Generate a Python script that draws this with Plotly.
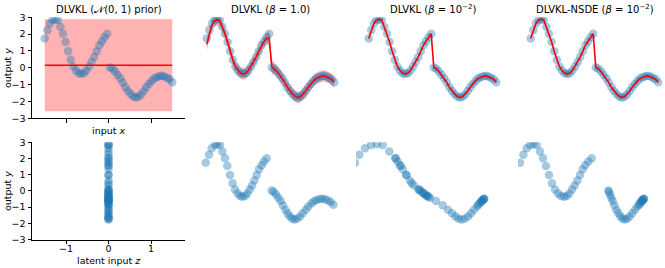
import plotly.graph_objects as go

# ---------------- data ----------------
x_train = [-1.5, -1.439, -1.378, -1.316, -1.255, -1.194, -1.133, -1.071, -1.01, -0.949,
           -0.888, -0.827, -0.765, -0.704, -0.643, -0.582, -0.52, -0.459, -0.398, -0.337,
           -0.276, -0.214, -0.153, -0.092, -0.031, 0.031, 0.092, 0.153, 0.214, 0.276,
           0.337, 0.398, 0.459, 0.52, 0.582, 0.643, 0.704, 0.765, 0.827, 0.888,
           0.949, 1.01, 1.071, 1.133, 1.194, 1.255, 1.316, 1.378, 1.439, 1.5]

y_train = [1.74, 2.24, 2.64, 2.84, 2.88, 2.84, 2.44, 2.02, 1.54, 0.98,
           0.48, 0.08, -0.16, -0.32, -0.36, -0.32, -0.16, 0.08, 0.34, 0.64,
           0.98, 1.34, 1.58, 1.82, 2.02, 0.02, -0.06, -0.22, -0.42, -0.62,
           -0.88, -1.16, -1.38, -1.56, -1.70, -1.76, -1.72, -1.58, -1.38, -1.16,
           -0.96, -0.78, -0.64, -0.56, -0.50, -0.48, -0.52, -0.60, -0.68, -0.86]

# predictive means / std per model
mean_prior = [0.15] * 50
std_prior = [1.365] * 50

mean_beta1 = [1.40, 2.05, 2.55, 2.80, 2.86, 2.80, 2.44, 2.02, 1.54, 0.98,
              0.48, 0.08, -0.16, -0.32, -0.36, -0.32, -0.16, 0.08, 0.34, 0.64,
              0.98, 1.32, 1.55, 1.75, 1.75, 0.06, -0.06, -0.22, -0.42, -0.62,
              -0.88, -1.16, -1.38, -1.56, -1.70, -1.76, -1.72, -1.58, -1.38, -1.16,
              -0.96, -0.78, -0.64, -0.56, -0.50, -0.48, -0.52, -0.60, -0.68, -0.86]
std_beta1 = [0.17] * 24 + [0.22, 0.22] + [0.17] * 24

mean_beta2 = y_train
std_beta2 = [0.04] * 50
mean_nsde = y_train
std_nsde = [0.04] * 50

# latent inputs z for each model (bottom row)
z_prior = [0.0] * 50
z_beta1 = [-1.525, -1.447, -1.384, -1.306, -1.251, -1.188, -1.133, -1.070, -1.016, -0.953,
           -0.890, -0.835, -0.772, -0.718, -0.663, -0.600, -0.545, -0.490, -0.435, -0.380,
           -0.325, -0.270, -0.208, -0.153, -0.090, 0.028, 0.075, 0.130, 0.184, 0.239,
           0.294, 0.349, 0.404, 0.451, 0.506, 0.561, 0.624, 0.694, 0.757, 0.828,
           0.890, 0.961, 1.024, 1.086, 1.157, 1.220, 1.282, 1.353, 1.416, 1.479]
z_beta2 = [-1.824, -1.722, -1.588, -1.447, -1.314, -1.173, -1.016, -0.875, -0.749, -0.608,
           -0.490, -0.333, -0.216, -0.122, -0.090, -0.137, -0.200, -0.310, -0.435, -0.529,
           -0.624, -0.702, -0.765, -0.820, -0.867, -0.294, -0.247, -0.169, -0.059, 0.082,
           0.239, 0.365, 0.459, 0.537, 0.608, 0.678, 0.757, 0.835, 0.906, 0.976,
           1.047, 1.102, 1.149, 1.180, 1.204, 1.220, 1.204, 1.173, 1.141, 1.078]
z_nsde = [-1.753, -1.674, -1.596, -1.518, -1.439, -1.361, -1.282, -1.212, -1.141, -1.071,
          -1.000, -0.929, -0.859, -0.788, -0.718, -0.655, -0.592, -0.529, -0.467, -0.404,
          -0.341, -0.278, -0.216, -0.145, -0.067, 0.325, 0.341, 0.365, 0.396, 0.427,
          0.467, 0.514, 0.561, 0.608, 0.655, 0.710, 0.765, 0.827, 0.890, 0.953,
          1.008, 1.055, 1.094, 1.125, 1.149, 1.165, 1.157, 1.133, 1.110, 1.063]

titles = ["DLVKL (𝒩(0, 1) prior)",
          "DLVKL (<i>β</i> = 1.0)",
          "DLVKL (<i>β</i> = 10<sup>−2</sup>)",
          "DLVKL-NSDE (<i>β</i> = 10<sup>−2</sup>)"]
y_ticks = [-3, -2, -1, 0, 1, 2, 3]
x_ticks = [-1, 0, 1]

means = [mean_prior, mean_beta1, mean_beta2, mean_nsde]
stds = [std_prior, std_beta1, std_beta2, std_nsde]
zs = [z_prior, z_beta1, z_beta2, z_nsde]

# ---------------- layout geometry ----------------
W, H = 665, 268
col_left = [32, 194, 356, 518]
col_w = 153
ppu = 42.5
x_lo = -1.8
top_px = (17.3, 118.3)
bot_px = (142.3, 239.5)

FONT = "DejaVu Sans"
dot_color = "rgba(31,119,180,0.4)"
band_color = "rgba(255,0,0,0.3)"

fig = go.Figure()
layout = dict(width=W, height=H, margin=dict(l=0, r=0, t=0, b=0),
              paper_bgcolor="white", plot_bgcolor="rgba(0,0,0,0)",
              showlegend=False, font=dict(family=FONT, size=9.5, color="black"),
              annotations=[])


def axis_common(visible):
    return dict(visible=visible, showgrid=False, zeroline=False, automargin=False,
                showline=visible, linecolor="black", linewidth=1,
                ticks="outside" if visible else "", ticklen=3.5, tickwidth=1,
                tickcolor="black", tickfont=dict(family=FONT, size=9.5, color="black"))


for row in range(2):
    for c in range(4):
        k = row * 4 + c + 1
        l = col_left[c]
        r = min(l + col_w, W)
        xr = [x_lo, x_lo + (r - l) / ppu]
        ypx = top_px if row == 0 else bot_px
        ydom = [1 - ypx[1] / H, 1 - ypx[0] / H]
        vis = (c == 0)
        xa = axis_common(vis)
        xa.update(domain=[l / W, r / W], range=xr, anchor=f"y{k}",
                  tickvals=x_ticks, showticklabels=(row == 1))
        if vis and row == 1:
            xa.update(ticklabelstandoff=-3)
        ya = axis_common(vis)
        ya.update(domain=ydom, range=[-3.002, 3.002], anchor=f"x{k}", tickvals=y_ticks)
        layout[f"xaxis{k}"] = xa
        layout[f"yaxis{k}"] = ya
        xs, ys = f"x{k}", f"y{k}"
        if row == 0:
            up = [m + 2 * s for m, s in zip(means[c], stds[c])]
            lo = [m - 2 * s for m, s in zip(means[c], stds[c])]
            fig.add_trace(go.Scatter(x=x_train, y=up, mode="lines", line=dict(width=0),
                                     xaxis=xs, yaxis=ys, hoverinfo="skip"))
            fig.add_trace(go.Scatter(x=x_train, y=lo, mode="lines", line=dict(width=0),
                                     fill="tonexty", fillcolor=band_color,
                                     xaxis=xs, yaxis=ys, hoverinfo="skip"))
            fig.add_trace(go.Scatter(x=x_train, y=y_train, mode="markers",
                                     marker=dict(size=8.5, color=dot_color, line=dict(width=0)),
                                     xaxis=xs, yaxis=ys))
            fig.add_trace(go.Scatter(x=x_train, y=means[c], mode="lines",
                                     line=dict(color="red", width=1.6),
                                     xaxis=xs, yaxis=ys))
        else:
            fig.add_trace(go.Scatter(x=zs[c], y=y_train, mode="markers",
                                     marker=dict(size=8.5, color=dot_color, line=dict(width=0)),
                                     xaxis=xs, yaxis=ys))

# titles
for c in range(4):
    cx = (col_left[c] + col_w / 2) / W
    layout["annotations"].append(dict(text=titles[c], x=cx, y=1 - 9.5 / H, xref="paper",
                                      yref="paper", showarrow=False, xanchor="center",
                                      yanchor="middle", font=dict(size=10, family=FONT)))

# axis labels (first column)
cx0 = (col_left[0] + col_w / 2) / W
layout["annotations"] += [
    dict(text="input <i>x</i>", x=cx0, y=1 - 130 / H, xref="paper", yref="paper",
         showarrow=False, xanchor="center", yanchor="middle"),
    dict(text="latent input <i>z</i>", x=cx0, y=1 - 260 / H, xref="paper", yref="paper",
         showarrow=False, xanchor="center", yanchor="middle"),
    dict(text="output <i>y</i>", x=7 / W, y=1 - 68 / H, xref="paper", yref="paper",
         showarrow=False, xanchor="center", yanchor="middle", textangle=-90),
    dict(text="output <i>y</i>", x=7 / W, y=1 - 191 / H, xref="paper", yref="paper",
         showarrow=False, xanchor="center", yanchor="middle", textangle=-90),
]

fig.update_layout(**layout)
fig.write_html("out.html", config={"displayModeBar": False},
               post_script="document.body.style.margin='0px';document.body.style.padding='0px';")
